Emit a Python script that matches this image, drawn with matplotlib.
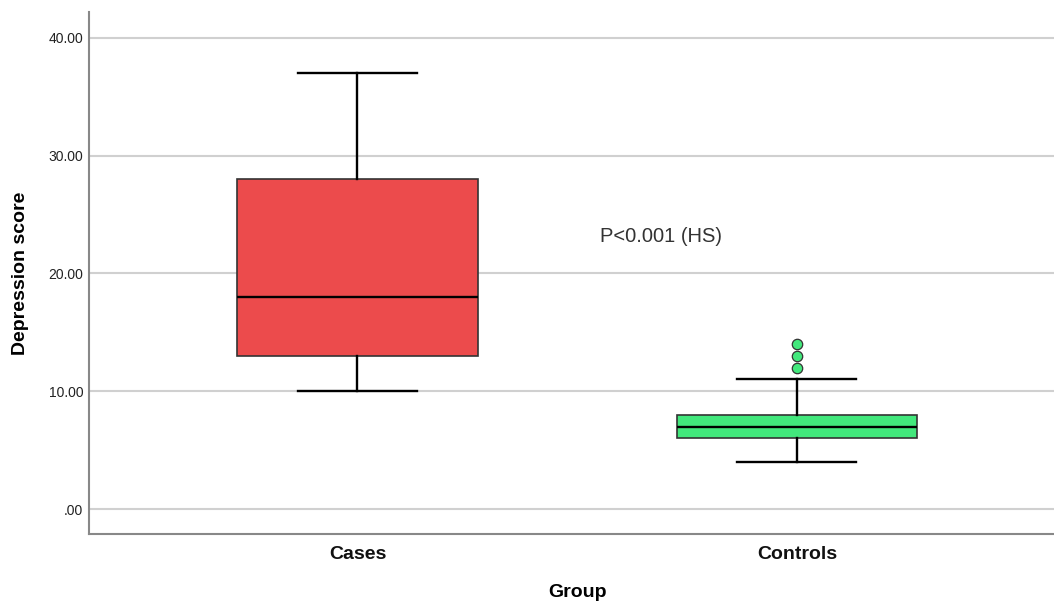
import matplotlib.pyplot as plt

# Five-number summaries for each group (SPSS-style boxplot)
groups = ['Cases', 'Controls']
whislo = [10, 4]
q1 = [13, 6]
med = [18, 7]
q3 = [28, 8]
whishi = [37, 11]
outliers = [[], [12, 13, 14]]
colors = ['#ec4b4c', '#42e87c']

yticks = [0, 10, 20, 30, 40]
ytick_labels = ['.00', '10.00', '20.00', '30.00', '40.00']

plt.rcParams['font.family'] = ['Liberation Sans', 'DejaVu Sans']

fig = plt.figure(figsize=(10.54, 6.05), dpi=100)
ax = fig.add_axes([0.0844, 0.1174, 0.9156, 0.8628])

stats = []
for i, g in enumerate(groups):
    stats.append(dict(label=g, whislo=whislo[i], q1=q1[i], med=med[i],
                      q3=q3[i], whishi=whishi[i], fliers=outliers[i]))

bp = ax.bxp(stats, positions=[0, 1], widths=0.548, capwidths=0.271,
            patch_artist=True, showfliers=True, zorder=3,
            medianprops=dict(color='black', linewidth=1.7),
            whiskerprops=dict(color='black', linewidth=1.7),
            capprops=dict(color='black', linewidth=1.7),
            boxprops=dict(edgecolor='#333333', linewidth=1.2))
for patch, c in zip(bp['boxes'], colors):
    patch.set_facecolor(c)
for fl, c in zip(bp['fliers'], colors):
    fl.set(marker='o', markerfacecolor=c, markeredgecolor='#333333',
           markersize=7.5, markeredgewidth=0.9)

ax.set_xlim(-0.611, 1.585)
ax.set_ylim(-2.12, 42.2)
ax.set_yticks(yticks)
ax.set_yticklabels(ytick_labels, fontsize=10, color='#222222')
ax.set_xticks([0, 1])
ax.set_xticklabels(groups, fontsize=14, fontweight='bold', color='#111111')
ax.tick_params(axis='both', length=0)
ax.tick_params(axis='x', pad=9)
ax.tick_params(axis='y', pad=4)

ax.yaxis.grid(True, color='#d0d0d0', linewidth=1.5, zorder=0)
ax.set_axisbelow(True)
for side in ['top', 'right']:
    ax.spines[side].set_visible(False)
for side in ['left', 'bottom']:
    ax.spines[side].set_color('#888888')
    ax.spines[side].set_linewidth(1.5)

ax.set_xlabel('Group', fontsize=14, fontweight='bold', labelpad=18)
ax.xaxis.set_label_coords(0.506, -0.095)
ax.set_ylabel('Depression score', fontsize=14, fontweight='bold', labelpad=14)

ax.text(0.553, 23.1, 'P<0.001 (HS)', fontsize=14.5, color='#333333',
        ha='left', va='center')

fig.savefig('out.png', dpi=100)
